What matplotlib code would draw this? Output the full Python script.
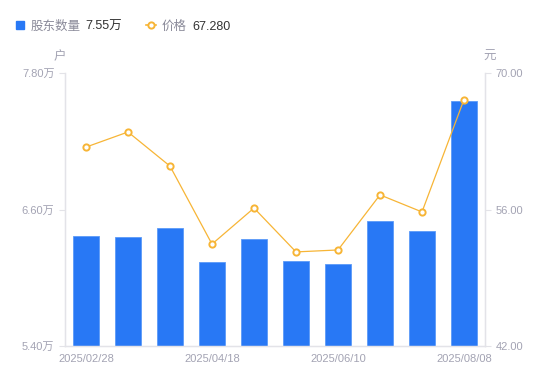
import matplotlib
matplotlib.use("Agg")
import matplotlib.pyplot as plt
from matplotlib.lines import Line2D
from matplotlib.patches import Rectangle

plt.rcParams["font.family"] = ["Liberation Sans", "Noto Sans CJK SC", "DejaVu Sans"]

# data
dates = ["2025/02/28", "2025/03/10", "2025/03/31", "2025/04/18", "2025/04/30",
         "2025/05/20", "2025/06/10", "2025/06/30", "2025/07/18", "2025/08/08"]
holders = [6.37, 6.355, 6.44, 6.14, 6.345, 6.145, 6.12, 6.50, 6.41, 7.55]  # 万户
price = [62.4, 63.95, 60.45, 52.45, 56.15, 51.65, 51.85, 57.5, 55.75, 67.28]  # 元
tick_idx = [0, 3, 6, 9]

BLUE = "#2878f5"
ORANGE = "#f7b536"
GRAY = "#a3a3b3"
AXIS = "#e3e3e8"

fig = plt.figure(figsize=(5.5, 3.81), dpi=100)
ax = fig.add_axes([65 / 550, 1 - 346 / 381, 420 / 550, 273 / 381])
ax2 = ax.twinx()

x = list(range(len(dates)))
ax.bar(x, holders, width=0.6, color=BLUE, edgecolor="#5b9af8", linewidth=0.6, zorder=2)
ax.set_ylim(5.40, 7.80)
ax.set_xlim(-0.5, len(dates) - 0.5)
ax.set_yticks([5.40, 6.60, 7.80])
ax.set_yticklabels([f"{v:.2f}万" for v in [5.40, 6.60, 7.80]])
ax.set_xticks(tick_idx)
ax.set_xticklabels([dates[i] for i in tick_idx])

ax2.plot(x, price, color=ORANGE, linewidth=0.9, marker="o", markersize=4.5,
         markerfacecolor="white", markeredgecolor=ORANGE, markeredgewidth=1.4, zorder=3)
ax2.set_ylim(42, 70)
ax2.set_yticks([42, 56, 70])
ax2.set_yticklabels([f"{v:.2f}" for v in [42, 56, 70]])

for a in (ax, ax2):
    a.spines["top"].set_visible(False)
    for side in ("left", "right", "bottom"):
        a.spines[side].set_color(AXIS)
        a.spines[side].set_linewidth(0.9)
    a.tick_params(axis="both", colors=AXIS, labelcolor=GRAY, labelsize=8, length=4, width=0.8)
ax.tick_params(axis="x", length=0, pad=6)
ax2.set_zorder(ax.get_zorder() + 1)
ax2.patch.set_visible(False)

# unit labels
fig.text(60 / 550, 1 - 57 / 381, "户", color=GRAY, fontsize=9, ha="center", va="center")
fig.text(490 / 550, 1 - 57 / 381, "元", color=GRAY, fontsize=9, ha="center", va="center")

# legend
ly = 1 - 26.5 / 381
fig.patches.append(Rectangle((16 / 550, 1 - 28.5 / 381), 8 / 550, 8 / 381,
                             transform=fig.transFigure, color=BLUE))
fig.text(31 / 550, ly, "股东数量", color="#8a8a99", fontsize=9, va="center")
fig.text(85 / 550, ly, "7.55万", color="#333333", fontsize=9, va="center")
fig.lines.append(Line2D([146 / 550, 156 / 550], [1 - 24.5 / 381, 1 - 24.5 / 381],
                        transform=fig.transFigure, color=ORANGE, linewidth=1.2))
fig.lines.append(Line2D([151 / 550], [1 - 24.5 / 381], transform=fig.transFigure,
                        marker="o", markersize=4.5, markerfacecolor="white",
                        markeredgecolor=ORANGE, markeredgewidth=1.4))
fig.text(162 / 550, ly, "价格", color="#8a8a99", fontsize=9, va="center")
fig.text(192 / 550, ly, "67.280", color="#333333", fontsize=9, va="center")

fig.savefig("out.png", dpi=100)
